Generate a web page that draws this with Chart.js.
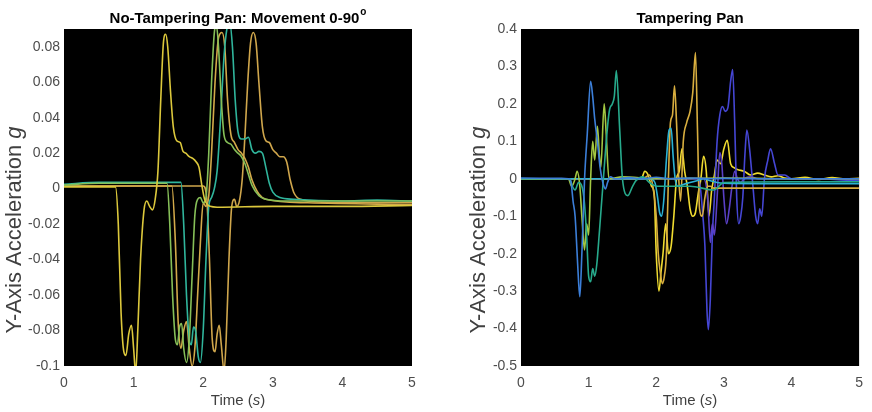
<!DOCTYPE html>
<html>
<head>
<meta charset="utf-8">
<script src="https://cdn.jsdelivr.net/npm/chart.js@4.4.1/dist/chart.umd.min.js"></script>
<style>
  html, body { margin: 0; padding: 0; background: #ffffff; }
  #wrap { position: relative; width: 872px; height: 412px; overflow: hidden; }
  .box { position: absolute; top: 0; width: 436px; height: 412px; }
</style>
</head>
<body>
<div id="wrap">
  <div class="box" style="left:0"><canvas id="c1" width="436" height="412"></canvas></div>
  <div class="box" style="left:436px"><canvas id="c2" width="436" height="412"></canvas></div>
</div>
<script>
// ---------- Tick labels ----------
const xTicks = [0, 1, 2, 3, 4, 5];
const leftYTicks = [-0.1, -0.08, -0.06, -0.04, -0.02, 0, 0.02, 0.04, 0.06, 0.08];
const rightYTicks = [-0.5, -0.4, -0.3, -0.2, -0.1, 0, 0.1, 0.2, 0.3, 0.4];

// ---------- Left panel: No-Tampering Pan (time in s, acceleration in g) ----------
const leftA_t = [0, 0.5, 0.74, 0.78, 0.82, 0.86, 0.89, 0.93, 0.97, 1.0, 1.03, 1.06, 1.1, 1.15, 1.19, 1.23, 1.27, 1.31, 1.35, 1.39, 1.43, 1.46, 1.49, 1.53, 1.57, 1.62, 1.67, 1.71, 1.75, 1.8, 1.85, 1.9, 1.94, 1.98, 2.02, 2.06, 2.1, 2.2, 3, 4, 5];
const leftA_v = [0.001, 0.001, 0.001, -0.02, -0.07, -0.092, -0.094, -0.082, -0.077, -0.09, -0.104, -0.08, -0.04, -0.012, -0.007, -0.01, -0.012, -0.006, 0.01, 0.05, 0.083, 0.087, 0.08, 0.055, 0.035, 0.027, 0.026, 0.021, 0.02, 0.018, 0.017, 0.015, 0.012, 0.002, -0.006, -0.009, -0.01, -0.0105, -0.010, -0.010, -0.0095];

const leftB_t = [0, 0.5, 1.0, 1.48, 1.52, 1.56, 1.6, 1.63, 1.66, 1.69, 1.72, 1.76, 1.8, 1.84, 1.88, 1.92, 1.96, 2.0, 2.04, 2.08, 2.12, 2.16, 2.19, 2.22, 2.26, 2.3, 2.35, 2.4, 2.45, 2.5, 2.55, 2.6, 2.65, 2.7, 2.8, 2.9, 3.2, 4, 5];
const leftB_v = [0.002, 0.003, 0.003, 0.003, -0.02, -0.06, -0.085, -0.088, -0.078, -0.076, -0.09, -0.098, -0.085, -0.05, -0.015, -0.006, -0.005, -0.008, -0.005, 0.02, 0.06, 0.088, 0.092, 0.08, 0.05, 0.03, 0.026, 0.025, 0.022, 0.02, 0.018, 0.014, 0.008, 0.002, -0.004, -0.006, -0.007, -0.007, -0.007];

const leftC_t = [0, 0.5, 1.0, 1.68, 1.72, 1.76, 1.8, 1.83, 1.86, 1.89, 1.93, 1.96, 2.0, 2.04, 2.08, 2.12, 2.16, 2.2, 2.25, 2.3, 2.34, 2.38, 2.42, 2.46, 2.5, 2.55, 2.6, 2.65, 2.7, 2.75, 2.8, 2.85, 2.9, 2.95, 3.0, 3.1, 3.3, 4, 4.5, 5];
const leftC_v = [0.0025, 0.0035, 0.0035, 0.0035, -0.02, -0.06, -0.085, -0.088, -0.078, -0.08, -0.095, -0.098, -0.08, -0.04, -0.01, -0.005, 0.0, 0.01, 0.04, 0.075, 0.09, 0.094, 0.08, 0.05, 0.032, 0.028, 0.028, 0.029, 0.022, 0.02, 0.021, 0.02, 0.012, 0.003, -0.002, -0.005, -0.006, -0.007, -0.0065, -0.007];

const leftD_t = [0, 0.5, 1.0, 1.55, 1.6, 1.64, 1.68, 1.72, 1.76, 1.8, 1.84, 1.88, 1.92, 1.96, 2.0, 2.04, 2.08, 2.12, 2.17, 2.22, 2.27, 2.31, 2.35, 2.4, 2.45, 2.5, 2.55, 2.6, 2.65, 2.7, 2.8, 2.9, 3.5, 5];
const leftD_v = [0.0015, 0.0015, 0.0015, 0.0015, -0.03, -0.075, -0.09, -0.08, -0.075, -0.09, -0.1, -0.09, -0.06, -0.03, -0.008, -0.01, -0.004, 0.02, 0.06, 0.085, 0.088, 0.08, 0.05, 0.03, 0.026, 0.022, 0.02, 0.017, 0.012, 0.005, -0.003, -0.006, -0.008, -0.009];

const leftE_t = [0, 1.0, 2.0, 2.05, 2.09, 2.13, 2.17, 2.2, 2.23, 2.26, 2.3, 2.33, 2.37, 2.41, 2.45, 2.48, 2.52, 2.56, 2.6, 2.64, 2.68, 2.72, 2.76, 2.8, 2.85, 2.9, 2.95, 3.0, 3.05, 3.1, 3.15, 3.2, 3.25, 3.3, 3.35, 3.4, 3.5, 4, 5];
const leftE_v = [0.0015, 0.0015, 0.0015, -0.005, -0.04, -0.085, -0.092, -0.082, -0.077, -0.088, -0.103, -0.085, -0.04, -0.01, -0.006, -0.01, -0.007, 0.005, 0.03, 0.06, 0.082, 0.088, 0.082, 0.06, 0.035, 0.027, 0.026, 0.022, 0.02, 0.018, 0.018, 0.015, 0.005, -0.002, -0.005, -0.006, -0.007, -0.008, -0.008];

// ---------- Right panel: Tampering Pan ----------
const rightBlue_t = [0, 0.6, 0.7, 0.74, 0.77, 0.8, 0.83, 0.85, 0.87, 0.9, 0.94, 0.98, 1.03, 1.06, 1.09, 1.13, 1.17, 1.21, 1.25, 1.28, 1.32, 1.4, 1.6, 1.8, 2.0, 2.2, 2.5, 2.8, 3.0, 3.5, 4, 5];
const rightBlue_v = [0.002, 0.001, 0, -0.01, -0.06, -0.1, -0.2, -0.27, -0.315, -0.2, 0.0, 0.12, 0.26, 0.22, 0.16, 0.1, 0.03, -0.01, -0.027, -0.01, 0.005, 0, 0.003, 0.0, 0.004, 0.0, 0.002, 0.0, 0.001, 0.0, 0.0, 0.0];

const rightTeal_t = [0, 0.72, 0.76, 0.8, 0.85, 0.93, 0.97, 1.0, 1.03, 1.06, 1.09, 1.12, 1.16, 1.21, 1.28, 1.31, 1.35, 1.38, 1.41, 1.46, 1.5, 1.58, 1.65, 1.7, 1.8, 1.9, 2.0, 2.5, 2.85, 3.0, 4, 5];
const rightTeal_v = [0, 0, -0.02, -0.03, -0.01, -0.05, -0.15, -0.26, -0.275, -0.24, -0.26, -0.23, -0.14, -0.02, 0.14, 0.185, 0.2, 0.22, 0.289, 0.13, 0.0, -0.045, -0.02, -0.005, 0.005, -0.01, -0.02, -0.02, -0.03, -0.01, -0.008, -0.008];

const rightLime_t = [0, 0.7, 0.75, 0.8, 0.83, 0.87, 0.9, 0.94, 0.97, 1.0, 1.03, 1.06, 1.09, 1.13, 1.16, 1.18, 1.23, 1.26, 1.3, 1.5, 2.0, 3.0, 4, 5];
const rightLime_v = [0, 0, -0.02, 0.0, 0.02, -0.02, -0.1, -0.19, -0.12, -0.15, 0.0, 0.1, 0.05, 0.14, 0.06, 0.03, 0.2, 0.12, 0.0, 0.005, 0.0, 0.002, 0.0, 0.0];

const rightGold_t = [0, 1.8, 1.9, 1.95, 2.0, 2.03, 2.06, 2.09, 2.12, 2.15, 2.18, 2.21, 2.24, 2.27, 2.3, 2.33, 2.36, 2.4, 2.45, 2.5, 2.54, 2.58, 2.61, 2.64, 2.68, 2.72, 2.76, 2.8, 2.85, 2.9, 3.0, 4.0, 5.0];
const rightGold_v = [0, 0, 0.01, -0.02, -0.1, -0.2, -0.25, -0.28, -0.26, -0.2, 0.0, 0.15, 0.17, 0.248, 0.15, 0.01, -0.06, 0.1, 0.15, 0.18, 0.23, 0.337, 0.13, -0.08, -0.1, -0.05, -0.02, -0.02, -0.025, -0.025, -0.025, -0.025, -0.025];

const rightCyan_t = [0, 1.7, 1.9, 1.98, 2.02, 2.05, 2.08, 2.11, 2.15, 2.19, 2.22, 2.25, 2.28, 2.32, 2.4, 2.5, 2.6, 2.7, 2.8, 2.9, 3.0, 3.5, 4.0, 5.0];
const rightCyan_v = [0, 0, 0.0, -0.01, -0.05, -0.09, -0.1, -0.06, 0.05, 0.13, 0.135, 0.06, 0.0, -0.02, -0.015, -0.01, -0.005, 0.0, -0.005, -0.01, -0.012, -0.013, -0.013, -0.013];

const rightIndigo_t = [0, 2.6, 2.65, 2.69, 2.72, 2.75, 2.77, 2.8, 2.83, 2.86, 2.9, 2.94, 2.98, 3.02, 3.06, 3.1, 3.13, 3.16, 3.19, 3.22, 3.25, 3.28, 3.31, 3.34, 3.38, 3.43, 3.47, 3.5, 3.53, 3.56, 3.6, 3.65, 3.69, 3.75, 3.8, 3.9, 4.0, 4.2, 5];
const rightIndigo_v = [0, 0, -0.02, -0.1, -0.18, -0.35, -0.403, -0.32, -0.15, -0.05, 0.1, 0.17, 0.193, 0.18, 0.19, 0.26, 0.292, 0.15, -0.05, -0.12, -0.1, -0.05, 0.06, 0.13, 0.08, -0.02, -0.1, -0.12, -0.08, -0.1, 0.0, 0.05, 0.08, 0.04, 0.01, 0.01, 0.0, 0.0, -0.005];

const rightViolet_t = [0, 2.7, 2.76, 2.8, 2.83, 2.86, 2.9, 2.94, 2.97, 3.0, 3.04, 3.08, 3.12, 3.16, 3.2, 3.25, 3.3, 3.4, 3.5, 4.0, 5.0];
const rightViolet_v = [0, 0, -0.05, -0.17, -0.12, -0.15, -0.05, 0.07, 0.04, -0.05, -0.12, -0.08, -0.02, 0.02, 0.0, -0.01, 0.0, 0.005, 0.0, 0.0, 0.0];

const rightYellow_t = [0, 1.78, 1.83, 1.88, 1.93, 1.97, 2.0, 2.04, 2.07, 2.1, 2.14, 2.18, 2.22, 2.26, 2.3, 2.34, 2.38, 2.42, 2.46, 2.5, 2.54, 2.58, 2.62, 2.66, 2.7, 2.74, 2.78, 2.82, 2.86, 2.9, 2.95, 3.0, 3.05, 3.1, 3.15, 3.2, 3.3, 3.4, 3.5, 3.6, 3.7, 3.8, 3.9, 4.0, 4.2, 4.4, 4.6, 4.8, 5.0];
const rightYellow_v = [0, 0, 0.02, 0.01, -0.02, -0.04, -0.2, -0.3, -0.25, -0.2, -0.12, -0.2, -0.18, -0.1, 0.0, 0.02, 0.08, 0.02, -0.02, -0.08, -0.1, -0.09, -0.04, 0.0, 0.06, 0.02, -0.1, -0.03, 0.01, 0.05, 0.04, 0.08, 0.103, 0.04, 0.03, 0.025, 0.02, 0.01, 0.015, 0.01, 0.005, 0.008, 0.002, 0.0, 0.004, -0.002, 0.003, 0.0, 0.001];

// ---------- helpers ----------
function pts(ts, vs) { return ts.map((t, i) => ({ x: t, y: vs[i] })); }
function ds(ts, vs, color) {
  return { data: pts(ts, vs), borderColor: color, borderWidth: 1.6, pointRadius: 0,
           fill: false, cubicInterpolationMode: 'monotone', clip: 0 };
}
const FONT = '"Liberation Sans", Arial, Helvetica, sans-serif';
const TICK_COLOR = '#4d4d4d';

const blackArea = {
  id: 'blackArea',
  beforeDatasetsDraw(chart) {
    const a = chart.chartArea, c = chart.ctx;
    c.save(); c.fillStyle = '#000000';
    c.fillRect(a.left, a.top, a.right - a.left, a.bottom - a.top);
    c.restore();
  }
};

const labels = {
  id: 'labels',
  afterDraw(chart, args, o) {
    const a = chart.chartArea, c = chart.ctx;
    const cx = (a.left + a.right) / 2;
    c.save();
    // title
    c.fillStyle = '#000000';
    c.font = 'bold 15px ' + FONT;
    c.textBaseline = 'alphabetic';
    const tw = c.measureText(o.title).width;
    let supW = 0;
    if (o.sup) { c.font = 'bold 10px ' + FONT; supW = c.measureText(o.sup).width + 1; }
    let x0 = cx - (tw + supW) / 2;
    c.font = 'bold 15px ' + FONT;
    c.textAlign = 'left';
    c.fillText(o.title, x0, 22.5);
    if (o.sup) { c.font = 'bold 10px ' + FONT; c.fillText(o.sup, x0 + tw + 1, 15); }
    // x label: Time (s)
    c.fillStyle = '#404040';
    c.textBaseline = 'middle';
    const p1 = 'Time (', p2 = 's', p3 = ')';
    c.font = '15px ' + FONT; const w1 = c.measureText(p1).width, w3 = c.measureText(p3).width;
    c.font = 'italic 15px ' + FONT; const w2 = c.measureText(p2).width;
    let xs = cx - (w1 + w2 + w3) / 2;
    c.font = '15px ' + FONT; c.fillText(p1, xs, 401);
    c.font = 'italic 15px ' + FONT; c.fillText(p2, xs + w1, 401);
    c.font = '15px ' + FONT; c.fillText(p3, xs + w1 + w2, 401);
    // y label
    c.translate(o.ylx, o.yly);
    c.rotate(-Math.PI / 2);
    const q1 = 'Y-Axis Acceleration ', q2 = 'g';
    const fs = o.yfs;
    c.font = fs + 'px ' + FONT; const v1 = c.measureText(q1).width;
    c.font = 'italic ' + fs + 'px ' + FONT; const v2 = c.measureText(q2).width;
    const ys = -(v1 + v2) / 2;
    c.font = fs + 'px ' + FONT; c.fillText(q1, ys, 0);
    c.font = 'italic ' + fs + 'px ' + FONT; c.fillText(q2, ys + v1, 0);
    c.restore();
  }
};

function fmt(v) { return String(Math.round(v * 100) / 100); }

function makeChart(id, datasets, yMin, yMax, yTicks, yWidth, padRight, lab) {
  return new Chart(document.getElementById(id), {
    type: 'line',
    data: { datasets },
    plugins: [blackArea, labels],
    options: {
      responsive: false, animation: false, events: [],
      layout: { padding: { top: 29, right: padRight, left: 0, bottom: 0 } },
      plugins: { legend: { display: false }, title: { display: false }, tooltip: { enabled: false }, labels: lab },
      scales: {
        x: {
          type: 'linear', min: 0, max: 5,
          afterBuildTicks: s => { s.ticks = xTicks.map(v => ({ value: v })); },
          afterFit: s => { s.height = 46; },
          grid: { display: false, drawTicks: false }, border: { display: false },
          ticks: { color: TICK_COLOR, font: { family: FONT, size: 14 }, padding: 9, maxRotation: 0,
                   callback: v => String(v) }
        },
        y: {
          type: 'linear', min: yMin, max: yMax,
          afterBuildTicks: s => { s.ticks = yTicks.map(v => ({ value: v })); },
          afterFit: s => { s.width = yWidth; },
          grid: { display: false, drawTicks: false }, border: { display: false },
          ticks: { color: TICK_COLOR, font: { family: FONT, size: 14 }, padding: 4, callback: v => fmt(v) }
        }
      }
    }
  });
}

makeChart('c1', [
  ds(leftA_t, leftA_v, '#dcc83c'),
  ds(leftB_t, leftB_v, '#86bf58'),
  ds(leftC_t, leftC_v, '#30b59c'),
  ds(leftD_t, leftD_v, '#d3aa4a'),
  ds(leftE_t, leftE_v, '#cfa64c')
], -0.1, 0.09, leftYTicks, 64, 24,
{ title: 'No-Tampering Pan: Movement 0-90', sup: 'o', ylx: 15, yly: 230, yfs: 22 });

makeChart('c2', [
  ds(rightBlue_t, rightBlue_v, '#3c7fd9'),
  ds(rightTeal_t, rightTeal_v, '#27aa8c'),
  ds(rightLime_t, rightLime_v, '#a3c842'),
  ds(rightCyan_t, rightCyan_v, '#2bb2d4'),
  ds(rightGold_t, rightGold_v, '#d8ae3f'),
  ds(rightViolet_t, rightViolet_v, '#5a40c6'),
  ds(rightIndigo_t, rightIndigo_v, '#4546d4'),
  ds(rightYellow_t, rightYellow_v, '#f0dc30')
], -0.5, 0.4, rightYTicks, 85, 5,
{ title: 'Tampering Pan', sup: '', ylx: 43, yly: 230, yfs: 22 });
</script>
</body>
</html>
